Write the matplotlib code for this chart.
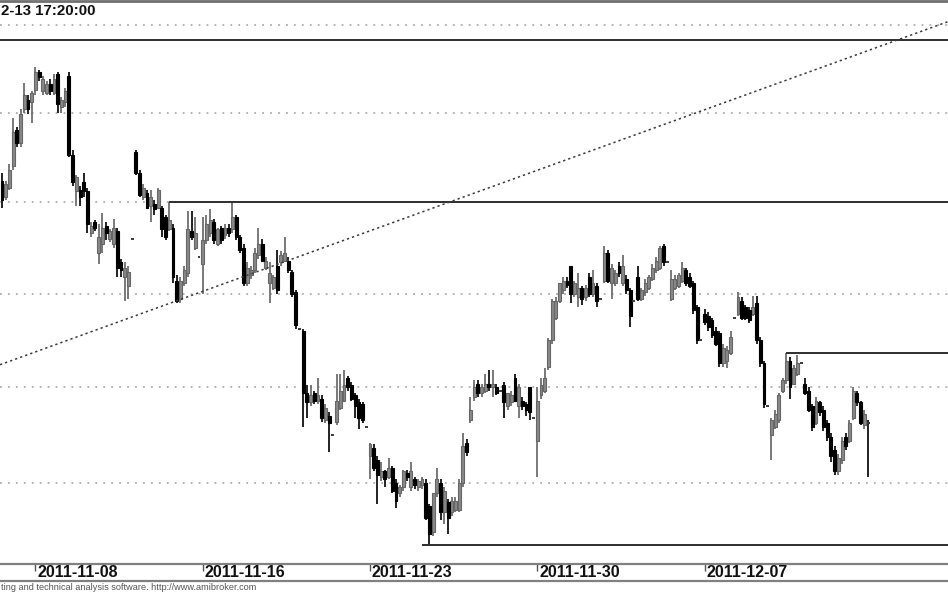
import numpy as np
import matplotlib.pyplot as plt
import matplotlib.transforms as mtransforms
from matplotlib.lines import Line2D
from matplotlib.ticker import FixedLocator, NullLocator, NullFormatter

plt.rcParams['font.family'] = ['Liberation Sans', 'DejaVu Sans']

# hourly bars, 9 per session (one row = one day)
opens = [
    2312, 2303, 2308, 2320, 2340, 2333, 2352, 2357, 2356,
    2363, 2373, 2362, 2361, 2366, 2361, 2372, 2353, 2356,
    2371, 2326, 2306, 2307, 2311, 2306, 2283, 2289, 2272,
    2277, 2287, 2280, 2277, 2284, 2267, 2259, 2254, 2280,
    2328, 2316, 2303, 2305, 2298, 2299, 2297, 2297, 2292,
    2285, 2286, 2257, 2247, 2256, 2261, 2284, 2275, 2270,
    2266, 2279, 2283, 2289, 2277, 2286, 2282, 2286, 2285,
    2292, 2281, 2275, 2256, 2260, 2263, 2271, 2277, 2264,
    2256, 2253, 2265, 2267, 2268, 2268, 2262, 2251, 2231,
    2230, 2197, 2192, 2197, 2193, 2194, 2183, 2185, 2175,
    2182, 2189, 2193, 2205, 2201, 2196, 2192, 2191, 2179,
    2164, 2168, 2162, 2153, 2156, 2153, 2158, 2150, 2145,
    2148, 2155, 2148, 2152, 2148, 2149, 2150, 2138, 2125,
    2145, 2150, 2135, 2140, 2135, 2136, 2136, 2150, 2171,
    2183, 2195, 2202, 2197, 2198, 2202, 2200, 2200, 2198,
    2201, 2190, 2192, 2205, 2190, 2193, 2191, 2200, 2184,
    2172, 2196, 2198, 2211, 2225, 2237, 2246, 2252, 2257,
    2265, 2250, 2248, 2253, 2248, 2259, 2250, 2254, 2247,
    2257, 2272, 2256, 2256, 2265, 2256, 2258, 2252, 2246,
    2259, 2247, 2251, 2253, 2258, 2263, 2264, 2276, 2267,
    2247, 2253, 2254, 2257, 2263, 2259, 2256, 2243, 2225,
    2239, 2238, 2236, 2230, 2229, 2213, 2214, 2218, 2237,
    2239, 2246, 2243, 2241, 2239, 2245, 2225, 2213, 2190,
    2175, 2179, 2183, 2198, 2204, 2214, 2202, 2207, 2213,
    2202, 2198, 2190, 2181, 2192, 2188, 2181, 2174, 2167,
    2156, 2162, 2174, 2172, 2184, 2197, 2192, 2180, 2181,
]
highs = [
    2316, 2312, 2321, 2347, 2342, 2352, 2367, 2360, 2362,
    2376, 2374, 2371, 2368, 2369, 2372, 2373, 2359, 2364,
    2373, 2329, 2315, 2309, 2316, 2308, 2289, 2290, 2288,
    2294, 2289, 2285, 2291, 2286, 2269, 2267, 2265, 2280,
    2329, 2318, 2310, 2307, 2307, 2301, 2308, 2298, 2293,
    2300, 2288, 2260, 2259, 2265, 2295, 2295, 2292, 2270,
    2292, 2293, 2296, 2291, 2286, 2287, 2288, 2288, 2300,
    2293, 2282, 2277, 2267, 2265, 2275, 2286, 2280, 2270,
    2267, 2260, 2274, 2273, 2281, 2270, 2263, 2252, 2231,
    2231, 2201, 2201, 2198, 2205, 2196, 2191, 2187, 2175,
    2207, 2207, 2209, 2206, 2203, 2197, 2194, 2192, 2179,
    2171, 2170, 2164, 2161, 2157, 2163, 2159, 2152, 2149,
    2157, 2157, 2161, 2153, 2152, 2153, 2152, 2139, 2145,
    2158, 2152, 2148, 2142, 2143, 2143, 2152, 2176, 2173,
    2195, 2204, 2204, 2202, 2207, 2209, 2209, 2202, 2198,
    2203, 2197, 2198, 2207, 2202, 2195, 2192, 2200, 2184,
    2200, 2205, 2210, 2226, 2247, 2248, 2256, 2259, 2259,
    2265, 2257, 2261, 2254, 2255, 2261, 2263, 2256, 2247,
    2276, 2274, 2266, 2263, 2267, 2271, 2260, 2253, 2246,
    2265, 2253, 2258, 2260, 2266, 2270, 2276, 2277, 2267,
    2263, 2260, 2261, 2267, 2264, 2261, 2257, 2244, 2225,
    2242, 2240, 2237, 2232, 2230, 2223, 2222, 2230, 2237,
    2251, 2248, 2244, 2243, 2249, 2249, 2227, 2214, 2190,
    2184, 2188, 2197, 2205, 2218, 2216, 2212, 2217, 2213,
    2205, 2200, 2191, 2195, 2193, 2190, 2183, 2176, 2169,
    2165, 2174, 2176, 2183, 2200, 2198, 2193, 2188, 2183,
]
lows = [
    2297, 2301, 2307, 2318, 2331, 2331, 2350, 2349, 2344,
    2360, 2368, 2360, 2360, 2360, 2360, 2350, 2350, 2353,
    2325, 2309, 2298, 2298, 2303, 2283, 2281, 2284, 2266,
    2272, 2279, 2278, 2275, 2259, 2259, 2246, 2247, 2280,
    2315, 2303, 2301, 2296, 2289, 2293, 2296, 2281, 2279,
    2284, 2256, 2245, 2245, 2254, 2259, 2279, 2274, 2270,
    2250, 2277, 2281, 2277, 2276, 2277, 2280, 2281, 2283,
    2279, 2272, 2254, 2254, 2258, 2261, 2269, 2267, 2263,
    2245, 2252, 2250, 2265, 2267, 2261, 2248, 2231, 2231,
    2179, 2184, 2190, 2191, 2191, 2182, 2181, 2166, 2175,
    2180, 2188, 2192, 2198, 2193, 2184, 2178, 2181, 2179,
    2152, 2156, 2139, 2151, 2148, 2152, 2145, 2137, 2143,
    2146, 2151, 2146, 2147, 2146, 2147, 2131, 2118, 2123,
    2143, 2131, 2129, 2124, 2133, 2135, 2135, 2148, 2164,
    2181, 2193, 2195, 2195, 2197, 2198, 2195, 2196, 2198,
    2184, 2188, 2190, 2192, 2184, 2188, 2185, 2183, 2184,
    2153, 2194, 2197, 2209, 2223, 2236, 2245, 2250, 2253,
    2245, 2248, 2243, 2244, 2246, 2248, 2248, 2243, 2247,
    2256, 2256, 2247, 2254, 2259, 2254, 2250, 2232, 2246,
    2246, 2246, 2249, 2252, 2257, 2261, 2263, 2265, 2267,
    2246, 2252, 2253, 2256, 2254, 2253, 2239, 2223, 2225,
    2233, 2230, 2226, 2222, 2211, 2211, 2210, 2217, 2237,
    2238, 2236, 2236, 2234, 2238, 2223, 2211, 2189, 2190,
    2162, 2178, 2181, 2197, 2202, 2194, 2201, 2206, 2213,
    2196, 2187, 2177, 2180, 2185, 2177, 2172, 2161, 2154,
    2154, 2160, 2167, 2171, 2183, 2190, 2180, 2178, 2153,
]
closes = [
    2301, 2310, 2318, 2339, 2333, 2349, 2360, 2352, 2361,
    2373, 2370, 2369, 2366, 2362, 2369, 2355, 2357, 2362,
    2326, 2311, 2314, 2303, 2306, 2288, 2287, 2286, 2281,
    2286, 2283, 2284, 2286, 2264, 2263, 2264, 2262, 2280,
    2316, 2304, 2308, 2297, 2303, 2296, 2307, 2285, 2281,
    2290, 2259, 2246, 2257, 2263, 2285, 2281, 2283, 2270,
    2279, 2288, 2290, 2279, 2285, 2279, 2286, 2283, 2292,
    2281, 2274, 2256, 2264, 2263, 2272, 2277, 2268, 2268,
    2261, 2259, 2252, 2271, 2272, 2263, 2250, 2233, 2231,
    2197, 2192, 2196, 2193, 2196, 2184, 2189, 2181, 2175,
    2193, 2198, 2201, 2200, 2194, 2190, 2184, 2183, 2179,
    2170, 2158, 2154, 2156, 2152, 2158, 2146, 2141, 2148,
    2156, 2153, 2156, 2149, 2151, 2152, 2132, 2124, 2145,
    2152, 2135, 2146, 2132, 2141, 2141, 2150, 2169, 2166,
    2188, 2200, 2197, 2200, 2202, 2200, 2202, 2197, 2198,
    2192, 2197, 2196, 2193, 2200, 2190, 2188, 2187, 2184,
    2193, 2201, 2205, 2225, 2246, 2246, 2256, 2257, 2255,
    2250, 2256, 2253, 2247, 2253, 2250, 2256, 2246, 2247,
    2272, 2257, 2264, 2261, 2261, 2265, 2252, 2238, 2246,
    2247, 2252, 2256, 2259, 2264, 2268, 2275, 2267, 2267,
    2258, 2258, 2260, 2264, 2256, 2254, 2241, 2225, 2225,
    2235, 2232, 2228, 2223, 2213, 2221, 2220, 2227, 2237,
    2248, 2237, 2237, 2236, 2243, 2225, 2213, 2191, 2190,
    2183, 2186, 2196, 2204, 2214, 2200, 2210, 2213, 2213,
    2197, 2188, 2179, 2193, 2187, 2179, 2174, 2164, 2156,
    2163, 2172, 2169, 2181, 2198, 2192, 2181, 2186, 2181,
]

date_ticks = [9, 54, 99, 144, 189]
date_labels = ['2011-11-08', '2011-11-16', '2011-11-23', '2011-11-30', '2011-12-07']
grid_levels = [2150, 2200, 2250, 2300, 2350, 2400]

# drawn support/resistance lines: level and first bar
hline_levels = [2391.5, 2300, 2218, 2118]
hline_starts = [-1, 45, 211, 113]
# dotted trendline anchors (bar, price)
trend_x = [-0.5, 241]
trend_y = [2212, 2391.5]

# only the parts of the title and footer left inside the crop
title = '2-13 17:20:00'
footer = 'ting and technical analysis software. http://www.amibroker.com'

o = np.array(opens, float)
h = np.array(highs, float)
l = np.array(lows, float)
c = np.array(closes, float)
idx = np.arange(len(o))

W, H = 948, 593
fig = plt.figure(figsize=(W / 100, H / 100), dpi=100)
ax = fig.add_axes([0, 29 / H, 1, 563 / H])

xmin, xmax = -0.54, 254.5
ax.set_xlim(xmin, xmax)
ax.set_yscale('log')
ax.set_ylim(2108.6, 2413.9)
ax.yaxis.set_major_locator(FixedLocator(grid_levels))
ax.yaxis.set_minor_locator(NullLocator())
ax.yaxis.set_major_formatter(NullFormatter())
ax.yaxis.set_minor_formatter(NullFormatter())
ax.tick_params(axis='y', length=0)
ax.yaxis.grid(True, linestyle=(0, (1.2, 4)), color='#a0a0a0', lw=1.1)
ax.set_axisbelow(True)

# candles
up = c > o
dn = c < o
eq = c == o
ax.vlines(idx[up], l[up], h[up], color='#6e6e6e', lw=1.3, zorder=2)
ax.vlines(idx[~up], l[~up], h[~up], color='#111111', lw=1.3, zorder=2)
bw = 0.78
ax.bar(idx[up], c[up] - o[up], bottom=o[up], width=bw, color='#888888',
       edgecolor='#666666', lw=0.8, zorder=3)
ax.bar(idx[dn], o[dn] - c[dn], bottom=c[dn], width=bw, color='#000000',
       edgecolor='#000000', lw=0.8, zorder=3)
ax.hlines(o[eq], idx[eq] - bw / 2, idx[eq] + bw / 2, color='#3a3a3a', lw=1.4, zorder=3)

# horizontal lines
for lev, st in zip(hline_levels, hline_starts):
    ax.hlines(lev, max(st, xmin), xmax, color='#2e2e2e', lw=1.4, zorder=4)

# trendline, extended to the right edge
k = (np.log(trend_y[1]) - np.log(trend_y[0])) / (trend_x[1] - trend_x[0])
tx = np.array([xmin, xmax])
ty = np.exp(np.log(trend_y[0]) + k * (tx - trend_x[0]))
ax.plot(tx, ty, linestyle=(0, (1.5, 2)), color='#3a3a3a', lw=1.1, zorder=4)

for s in ['left', 'right']:
    ax.spines[s].set_visible(False)
ax.spines['top'].set_color('#707070')
ax.spines['top'].set_linewidth(2)
ax.spines['bottom'].set_color('#808080')
ax.spines['bottom'].set_linewidth(1.6)

ax.set_xticks(date_ticks)
ax.tick_params(axis='x', direction='out', length=5, width=1, color='#555555',
               labelbottom=False)
trans = mtransforms.blended_transform_factory(ax.transData, ax.transAxes)
for t, lab in zip(date_ticks, date_labels):
    ax.text(t + 0.5, -8.5 / 563, lab, transform=trans, ha='left', va='center',
            fontsize=11.5, fontweight='bold', color='#111111')

fig.add_artist(Line2D([0, 1], [12 / H, 12 / H], transform=fig.transFigure,
                      color='#808080', lw=1.6))

fig.text(1 / W, 1 - 11 / H, title, ha='left', va='center', fontsize=10.8,
         fontweight='bold', color='#111111')
fig.text(1 / W, 5 / H, footer, ha='left', va='center', fontsize=6.6,
         color='#555555')

fig.savefig('out.png', dpi=100)
